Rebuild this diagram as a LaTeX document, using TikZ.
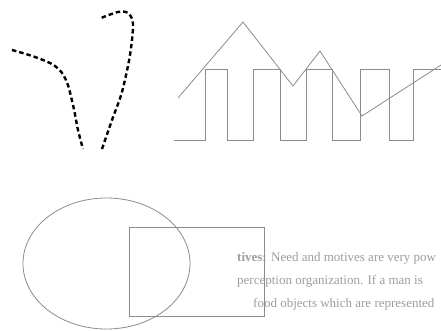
\documentclass[tikz,border=0pt]{standalone}
\usepackage{fontspec}
\setmainfont{Liberation Serif}
\begin{document}
\begin{tikzpicture}[x=1pt,y=-1pt,
  thickdash/.style={line width=2.4pt, dash pattern=on 4.5pt off 3pt, black},
  faint/.style={line width=0.8pt, black!45},
  pagetext/.style={anchor=base west, inner sep=0pt, text=black!38, font=\fontsize{13}{15}\selectfont}]
\useasboundingbox (0,0) rectangle (441,331);
\fill[white] (0,0) rectangle (441,331);
% faded page text
\node[pagetext] (t1) at (237,261) {\textbf{tives:} Need and motives are very pow};
\node[pagetext] (t2) at (237,284) {perception organization. If a man is};
\node[pagetext] (t3) at (253,307) {food objects which are represented};
% dotted V
\draw[thickdash] plot[smooth, tension=0.6] coordinates {(12,50) (35,57) (55,66) (66,80) (73,105) (78,130) (83,149)};
\draw[thickdash] plot[smooth, tension=0.5] coordinates {(102,149) (112,120) (122,92) (130,55) (133,24) (128,13) (118,12) (101,18)};
% square wave
\draw[faint] (174,140) -- (205,140) -- (205,69) -- (227,69) -- (227,140) -- (253,140) -- (253,69) -- (280,69) -- (280,140) -- (306,140) -- (306,69) -- (332,69) -- (332,140) -- (360,140) -- (360,69) -- (389,69) -- (389,140) -- (413,140) -- (413,69) -- (441,69);
% triangle line
\draw[faint] (178,98) -- (243,22) -- (293,86) -- (320,51) -- (362,116) -- (441,65);
% ellipse and rectangle
\draw[faint] (106.5,263.5) ellipse [x radius=83.5pt, y radius=65.5pt];
\draw[faint] (129,227) rectangle (264,316);
\end{tikzpicture}
\end{document}
